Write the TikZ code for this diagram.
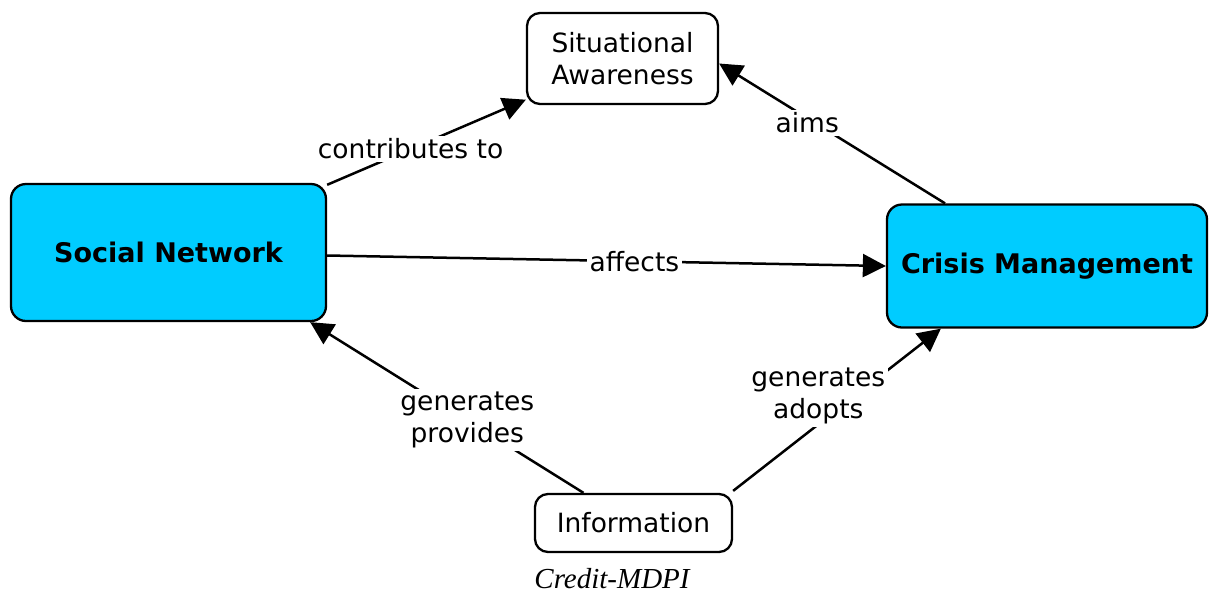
\documentclass[tikz,border=0pt]{standalone}
\usepackage{fontspec}
\setmainfont{DejaVu Sans}
\newfontfamily\creditfont{Liberation Serif}
\usetikzlibrary{arrows.meta}
\definecolor{conceptblue}{RGB}{0,204,255}
\begin{document}
\begin{tikzpicture}[x=1pt,y=-1pt,
  concept/.style={draw=black, line width=2.3pt, rounded corners=15pt, fill=conceptblue,
    font=\fontsize{27}{32}\selectfont\bfseries, inner sep=0pt, align=center},
  term/.style={draw=black, line width=2.3pt, rounded corners=13pt, fill=white,
    font=\fontsize{26.5}{32}\selectfont, inner sep=0pt, align=center},
  link/.style={line width=2.5pt, -{Triangle[length=23pt,width=23pt]}},
  lab/.style={fill=white, inner sep=3pt, font=\fontsize{26.5}{32}\selectfont, align=center}]
  \useasboundingbox (0,0) rectangle (1209,595);

  % concepts
  \node[concept, minimum width=315pt, minimum height=137pt] (sn) at (168.5,252.5) {Social Network};
  \node[concept, minimum width=320pt, minimum height=123pt] (cm) at (1047,266) {Crisis Management};
  \node[term, minimum width=191pt, minimum height=91pt] (sa) at (622.5,58.5) {Situational\\Awareness};
  \node[term, minimum width=197pt, minimum height=58pt] (info) at (633.5,523) {Information};

  % links
  \draw[link] (sn) -- node[lab, pos=0.42] {contributes to} (sa);
  \draw[link] ([xshift=-102pt]cm.north) -- node[lab, pos=0.61, yshift=-5pt] {aims} ([yshift=-5pt]sa.east);
  \draw[link] ([yshift=-3pt]sn.east) -- node[lab, pos=0.55] {affects} (cm.west);
  \draw[link] ([xshift=-50pt]info.north) -- node[lab, pos=0.425] {generates\\provides} ([xshift=-17pt]sn.south east);
  \draw[link] ([yshift=2pt]info.north east) -- node[pos=0.41, yshift=28pt, lab] (ga) {generates\\adopts} ([xshift=55pt]cm.south west);

  % credit line
  \node[anchor=base, inner sep=0pt, font=\creditfont\itshape\fontsize{29}{32}\selectfont] (credit) at (612,588) {Credit-MDPI};
\end{tikzpicture}
\end{document}
